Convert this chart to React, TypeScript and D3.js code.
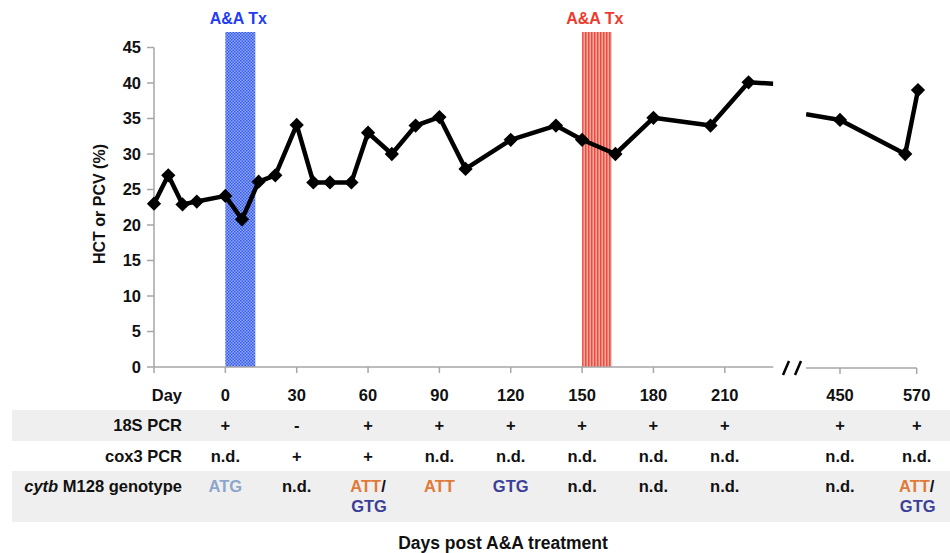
import React from "react";
import * as d3 from "d3";

// ---- data ----
const leftDays = [-30, -24, -18, -12, 0, 7, 14, 21, 30, 37, 44, 53, 60, 70, 80, 90, 101, 120, 139, 150, 164, 180, 204, 220];
const leftValues = [23, 27, 22.9, 23.3, 24.1, 20.8, 26.1, 27, 34.1, 26, 26, 26, 33, 30, 34, 35.2, 27.9, 32, 34, 32, 30, 35.1, 34, 40.1];
// continuation of the line up to / from the axis break (no markers)
const leftEdge = { day: 230.4, value: 39.9 };
const rightEdge = { day: 397, value: 35.6 };
const rightDays = [450, 552, 572];
const rightValues = [34.8, 30, 39];

const yTicks = [0, 5, 10, 15, 20, 25, 30, 35, 40, 45];
const leftTickDays = [-30, 0, 30, 60, 90, 120, 150, 180, 210];
const rightTickDays = [450, 570];

const columns = ["0", "30", "60", "90", "120", "150", "180", "210", "450", "570"];
const colDays = [0, 30, 60, 90, 120, 150, 180, 210, 450, 570];
const pcr18S = ["+", "-", "+", "+", "+", "+", "+", "+", "+", "+"];
const cox3 = ["n.d.", "+", "+", "n.d.", "n.d.", "n.d.", "n.d.", "n.d.", "n.d.", "n.d."];
const genotype = ["ATG", "n.d.", "ATT/GTG", "ATT", "GTG", "n.d.", "n.d.", "n.d.", "n.d.", "ATT/GTG"];

const treatments = [
  { start: 0, end: 12.6, color: "#1f3df5", pattern: "url(#bluePat)" },
  { start: 150, end: 162.4, color: "#ee3a2c", pattern: "url(#redPat)" },
];

const FONT = "'Liberation Sans', Arial, Helvetica, sans-serif";
const genoColor: Record<string, string> = { ATG: "#8da6cc", ATT: "#e07a3a", GTG: "#3b3f98", "n.d.": "#111" };

export default function App() {
  const xL = d3.scaleLinear().domain([-30, 230.4]).range([154, 773.3]);
  const xR = d3.scaleLinear().domain([450, 570]).range([840, 916.7]);
  const y = d3.scaleLinear().domain([0, 45]).range([367, 47.5]);
  const xCol = (d: number) => (d >= 400 ? xR(d) : xL(d));

  const line = d3.line<[number, number]>().x((d) => d[0]).y((d) => d[1]);
  const leftPts: [number, number][] = leftDays.map((d, i) => [xL(d), y(leftValues[i])]);
  leftPts.push([xL(leftEdge.day), y(leftEdge.value)]);
  const rightPts: [number, number][] = [[xR(rightEdge.day), y(rightEdge.value)]].concat(
    rightDays.map((d, i) => [xR(d), y(rightValues[i])] as [number, number])
  ) as [number, number][];

  const markers: [number, number][] = leftDays
    .map((d, i) => [xL(d), y(leftValues[i])] as [number, number])
    .concat(rightDays.map((d, i) => [xR(d), y(rightValues[i])] as [number, number]));

  const diamond = d3.symbol().type(d3.symbolDiamond2).size(130)();

  const rowLabelX = 182;
  const axisGray = "#a6a6a6";

  const renderGeno = (g: string, x: number) => {
    if (g.includes("/")) {
      const [a, b] = g.split("/");
      return (
        <g key={x}>
          <text x={x} y={492} textAnchor="middle" fill={genoColor[a]}>
            {a}
            <tspan fill="#111">/</tspan>
          </text>
          <text x={x + 1} y={512} textAnchor="middle" fill={genoColor[b]}>{b}</text>
        </g>
      );
    }
    return (
      <text key={x} x={x} y={492} textAnchor="middle" fill={genoColor[g]}>{g}</text>
    );
  };

  return (
    <svg width={950} height={553} style={{ position: "absolute", left: 0, top: 0 }} fontFamily={FONT}>
      <defs>
        <pattern id="bluePat" width={3} height={3} patternUnits="userSpaceOnUse">
          <rect width={3} height={3} fill="#93aaf6" />
          <rect width={1.5} height={1.5} fill="#3459f0" />
          <rect x={1.5} y={1.5} width={1.5} height={1.5} fill="#3459f0" />
        </pattern>
        <pattern id="redPat" width={3} height={3} patternUnits="userSpaceOnUse">
          <rect width={3} height={3} fill="#f8aaa2" />
          <rect width={1.5} height={3} fill="#ef4a3c" />
        </pattern>
        <clipPath id="clipL"><rect x={150} y={0} width={623.3} height={400} /></clipPath>
        <clipPath id="clipR"><rect x={806} y={0} width={140} height={400} /></clipPath>
      </defs>
      <rect width={950} height={553} fill="#fff" />

      {/* table backgrounds */}
      <rect x={12} y={410} width={938} height={31} fill="#efefef" />
      <rect x={12} y={471} width={938} height={51} fill="#efefef" />

      {/* treatment bands */}
      {treatments.map((t, i) => (
        <g key={i}>
          <rect x={xL(t.start)} y={32} width={xL(t.end) - xL(t.start)} height={y(0) - 32} fill={t.pattern} />
          <text x={(xL(t.start) + xL(t.end)) / 2 - 2} y={24} textAnchor="middle" fontWeight="bold" fontSize={16} fill={t.color}>
            A&amp;A Tx
          </text>
        </g>
      ))}

      {/* y axis */}
      <line x1={154} x2={154} y1={y(45)} y2={y(0)} stroke={axisGray} strokeWidth={1.5} />
      {yTicks.map((t) => (
        <g key={t}>
          <line x1={147} x2={154} y1={y(t)} y2={y(t)} stroke={axisGray} strokeWidth={1.5} />
          <text x={141} y={y(t) + 5.5} textAnchor="end" fontWeight="bold" fontSize={16.5} fill="#111">{t}</text>
        </g>
      ))}
      <text transform={`translate(105,204) rotate(-90)`} textAnchor="middle" fontWeight="bold" fontSize={16} fill="#111">
        HCT or PCV (%)
      </text>

      {/* x axes */}
      <line x1={154} x2={773.3} y1={367} y2={367} stroke={axisGray} strokeWidth={1.5} />
      {leftTickDays.map((d) => (
        <line key={d} x1={xL(d)} x2={xL(d)} y1={367} y2={373} stroke={axisGray} strokeWidth={1.5} />
      ))}
      <line x1={806} x2={916.7} y1={368} y2={368} stroke={axisGray} strokeWidth={1.5} />
      {rightTickDays.map((d) => (
        <line key={d} x1={xR(d)} x2={xR(d)} y1={368} y2={374} stroke={axisGray} strokeWidth={1.5} />
      ))}
      {/* axis break marks */}
      <line x1={783} y1={375} x2={789} y2={361} stroke="#000" strokeWidth={2.5} />
      <line x1={795} y1={375} x2={801} y2={361} stroke="#000" strokeWidth={2.5} />

      {/* data line */}
      <path d={line(leftPts) || ""} fill="none" stroke="#000" strokeWidth={4.5} strokeLinejoin="round" clipPath="url(#clipL)" />
      <path d={line(rightPts) || ""} fill="none" stroke="#000" strokeWidth={4.5} strokeLinejoin="round" clipPath="url(#clipR)" />
      {markers.map((p, i) => (
        <path key={i} d={diamond || ""} transform={`translate(${p[0]},${p[1]})`} fill="#000" />
      ))}

      {/* table */}
      <g fontWeight="bold" fontSize={16.5} fill="#111">
        <text x={rowLabelX} y={401} textAnchor="end">Day</text>
        <text x={rowLabelX} y={431} textAnchor="end">18S PCR</text>
        <text x={rowLabelX} y={462} textAnchor="end">cox3 PCR</text>
        <text x={rowLabelX} y={492} textAnchor="end">
          <tspan fontStyle="italic">cytb</tspan> M128 genotype
        </text>
        {columns.map((c, i) => (
          <text key={"d" + c} x={xCol(colDays[i])} y={401} textAnchor="middle">{c}</text>
        ))}
        {pcr18S.map((v, i) => (
          <text key={"s" + i} x={xCol(colDays[i])} y={431} textAnchor="middle">{v}</text>
        ))}
        {cox3.map((v, i) => (
          <text key={"c" + i} x={xCol(colDays[i])} y={462} textAnchor="middle">{v}</text>
        ))}
        {genotype.map((g, i) => renderGeno(g, xCol(colDays[i])))}
      </g>

      <text x={503} y={549} textAnchor="middle" fontWeight="bold" fontSize={17.5} fill="#111">
        Days post A&amp;A treatment
      </text>
    </svg>
  );
}
